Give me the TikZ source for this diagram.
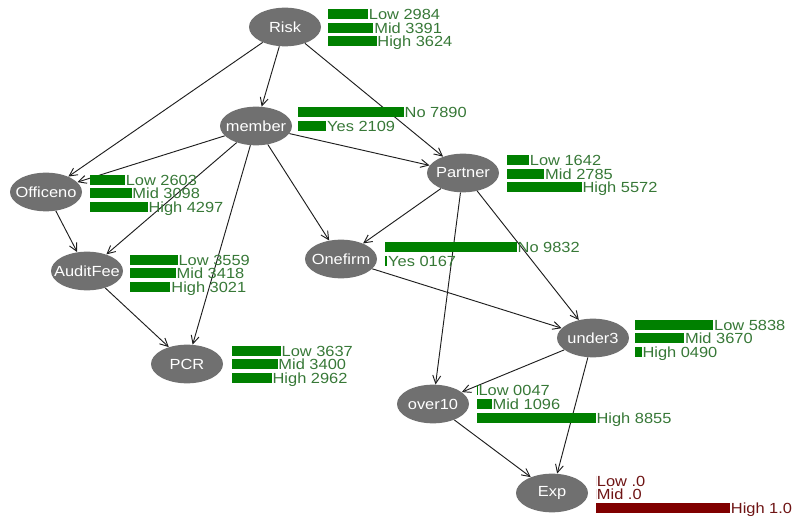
\documentclass[tikz,border=0pt]{standalone}
\usepackage{fontspec}
\usetikzlibrary{shapes.geometric,arrows.meta}
\newfontfamily\lblfont[FakeStretch=1.12]{Liberation Sans}
\definecolor{nodegray}{RGB}{112,112,112}
\definecolor{barg}{RGB}{0,128,0}
\definecolor{txtg}{RGB}{55,120,55}
\definecolor{barr}{RGB}{128,0,0}
\definecolor{txtr}{RGB}{110,20,20}
\definecolor{edgec}{RGB}{30,30,30}
\newcommand\pbar[6]{% name, x0, y, value, text, colour-suffix
  \fill[bar#6] (#2,#3-5) rectangle ({#2+#4*0.0134},#3+5);
  \node[lbl,text=txt#6,anchor=west] (#1) at ({#2+#4*0.0134},#3) {#5};
}
\begin{document}
\begin{tikzpicture}[x=0.75pt,y=-0.75pt,
  bn/.style={ellipse,fill=nodegray,minimum width=54pt,minimum height=29pt,inner sep=0pt,
    label={[text=white,inner sep=0pt,font=\lblfont\fontsize{11pt}{13pt}\selectfont]center:#1}},
  lbl/.style={inner sep=0pt,inner xsep=0.5pt,text height=8pt,text depth=0.2pt,font=\lblfont\fontsize{11pt}{13pt}\selectfont},
  edge/.style={draw=edgec,line width=0.7pt,-{Straight Barb[length=6pt,width=6pt]}}]
\useasboundingbox (0,0) rectangle (797,520);
% nodes
\node[bn=Risk] (risk) at (285,27) {};
\node[bn=member] (member) at (256,126) {};
\node[bn=Officeno] (officeno) at (46,192) {};
\node[bn=AuditFee] (auditfee) at (87,271) {};
\node[bn=PCR] (pcr) at (187,364) {};
\node[bn=Partner] (partner) at (463,173) {};
\node[bn=Onefirm] (onefirm) at (341,259) {};
\node[bn=under3] (under3) at (593,338) {};
\node[bn=over10] (over10) at (433,404) {};
\node[bn=Exp] (exp) at (552,493) {};
% edges
\draw[edge] (risk) -- (officeno);
\draw[edge] (risk) -- (member);
\draw[edge] (risk) -- (partner);
\draw[edge] (member) -- (officeno);
\draw[edge] (member) -- (auditfee);
\draw[edge] (member) -- (pcr);
\draw[edge] (member) -- (onefirm);
\draw[edge] (member) -- (partner);
\draw[edge] (officeno) -- (auditfee);
\draw[edge] (auditfee) -- (pcr);
\draw[edge] (partner) -- (onefirm);
\draw[edge] (partner) -- (over10);
\draw[edge] (partner) -- (under3);
\draw[edge] (onefirm) -- (under3);
\draw[edge] (under3) -- (over10);
\draw[edge] (under3) -- (exp);
\draw[edge] (over10) -- (exp);
% bars
\pbar{riskL}{328}{14}{2984}{Low 2984}{g}
\pbar{riskM}{328}{28}{3391}{Mid 3391}{g}
\pbar{riskH}{328}{41.5}{3624}{High 3624}{g}
\pbar{memN}{298}{112}{7890}{No 7890}{g}
\pbar{memY}{298}{126}{2109}{Yes 2109}{g}
\pbar{offL}{90}{180}{2603}{Low 2603}{g}
\pbar{offM}{90}{193.5}{3098}{Mid 3098}{g}
\pbar{offH}{90}{207.5}{4297}{High 4297}{g}
\pbar{audL}{130}{260}{3559}{Low 3559}{g}
\pbar{audM}{130}{273}{3418}{Mid 3418}{g}
\pbar{audH}{130}{287}{3021}{High 3021}{g}
\pbar{pcrL}{232}{351}{3637}{Low 3637}{g}
\pbar{pcrM}{232}{364.5}{3400}{Mid 3400}{g}
\pbar{pcrH}{232}{378}{2962}{High 2962}{g}
\pbar{parL}{507}{160}{1642}{Low 1642}{g}
\pbar{parM}{507}{174}{2785}{Mid 2785}{g}
\pbar{parH}{507}{187.5}{5572}{High 5572}{g}
\pbar{oneN}{385}{247.5}{9832}{No 9832}{g}
\pbar{oneY}{385}{261}{167}{Yes 0167}{g}
\pbar{undL}{635}{325.5}{5838}{Low 5838}{g}
\pbar{undM}{635}{338.5}{3670}{Mid 3670}{g}
\pbar{undH}{635}{352}{490}{High 0490}{g}
\pbar{ovrL}{477}{390.5}{47}{Low 0047}{g}
\pbar{ovrM}{477}{404.5}{1096}{Mid 1096}{g}
\pbar{ovrH}{477}{418}{8855}{High 8855}{g}
\pbar{expL}{596}{481}{0}{Low .0}{r}
\pbar{expM}{596}{494.5}{0}{Mid .0}{r}
\pbar{expH}{596}{508.5}{10000}{High 1.0}{r}
\end{tikzpicture}
\end{document}
